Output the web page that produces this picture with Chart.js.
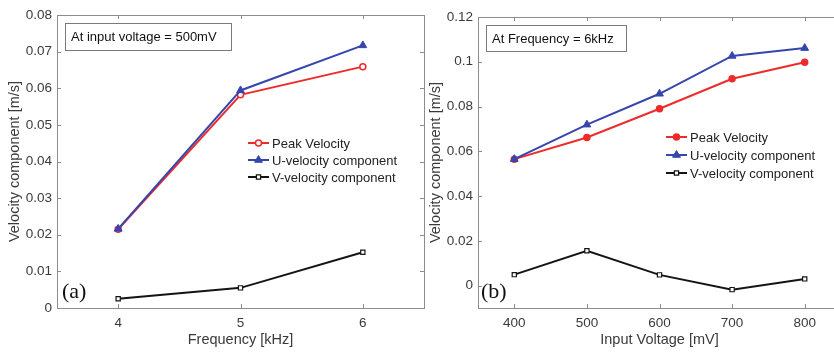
<!doctype html>
<html lang="en">
<head>
<meta charset="utf-8">
<title>Velocity components</title>
<script src="https://cdn.jsdelivr.net/npm/chart.js@4.4.0/dist/chart.umd.min.js"></script>
<style>
  html, body { margin: 0; padding: 0; background: #fff; overflow: hidden; }
  #wrap { position: relative; width: 834px; height: 352px; overflow: hidden; }
  canvas { position: absolute; top: 0; }
  #chartA { left: 0; }
  #chartB { left: 416px; }
</style>
</head>
<body>
<div id="wrap">
  <canvas id="chartA" width="430" height="352"></canvas>
  <canvas id="chartB" width="434" height="352"></canvas>
</div>
<script>
// panel (a): sweep of frequency, input voltage fixed at 500 mV
const freqKHz = [4, 5, 6];
const peakA = [0.0215, 0.0582, 0.0659];
const uA = [0.0216, 0.0594, 0.0717];
const vA = [0.0025, 0.0055, 0.0152];
const xTicksA = [4, 5, 6];
const yTicksA = [0, 0.01, 0.02, 0.03, 0.04, 0.05, 0.06, 0.07, 0.08];

// panel (b): sweep of input voltage, frequency fixed at 6 kHz
const voltMV = [400, 500, 600, 700, 800];
const peakB = [0.0565, 0.0662, 0.0790, 0.0924, 0.0998];
const uB = [0.0565, 0.0719, 0.0857, 0.1026, 0.1061];
const vB = [0.0049, 0.0156, 0.0048, -0.0018, 0.0030];
const xTicksB = [400, 500, 600, 700, 800];
const yTicksB = [0, 0.02, 0.04, 0.06, 0.08, 0.1, 0.12];

const seriesNames = ['Peak Velocity', 'U-velocity component', 'V-velocity component'];

const RED = '#ee2b2b', BLUE = '#3546ad', BLACK = '#141414';
const AXIS = '#8c8c8c', TEXT = '#3a3a3a';
const SANS = '"Liberation Sans", Arial, Helvetica, sans-serif';

Chart.defaults.font.family = SANS;

function pts(xs, ys) {
  return xs.map((x, i) => ({ x: x, y: ys[i] }));
}

function drawMarker(ctx, ds, x, y) {
  ctx.save();
  ctx.fillStyle = ds.pointBackgroundColor;
  ctx.strokeStyle = ds.borderColor;
  ctx.lineWidth = ds.pointBorderWidth;
  const r = ds.pointRadius;
  ctx.beginPath();
  if (ds.pointStyle === 'triangle') {
    ctx.moveTo(x, y - r);
    ctx.lineTo(x + r * 0.87, y + r * 0.5);
    ctx.lineTo(x - r * 0.87, y + r * 0.5);
    ctx.closePath();
  } else if (ds.pointStyle === 'rect') {
    const s = r * Math.SQRT1_2;
    ctx.rect(x - s, y - s, 2 * s, 2 * s);
  } else {
    ctx.arc(x, y, r, 0, Math.PI * 2);
  }
  ctx.fill();
  ctx.stroke();
  ctx.restore();
}

// frame, inward ticks, note box, panel letter and legend
const decor = {
  id: 'decor',
  beforeDatasetsDraw(chart) {
    const { ctx, chartArea: a, scales } = chart;
    ctx.save();
    ctx.strokeStyle = AXIS;
    ctx.lineWidth = 1;
    ctx.strokeRect(a.left + 0.5, a.top + 0.5, a.right - a.left, a.bottom - a.top);
    ctx.beginPath();
    scales.x.ticks.forEach(t => {
      const px = Math.round(scales.x.getPixelForValue(t.value)) + 0.5;
      ctx.moveTo(px, a.bottom); ctx.lineTo(px, a.bottom - 4);
      ctx.moveTo(px, a.top); ctx.lineTo(px, a.top + 4);
    });
    scales.y.ticks.forEach(t => {
      const py = Math.round(scales.y.getPixelForValue(t.value)) + 0.5;
      ctx.moveTo(a.left, py); ctx.lineTo(a.left + 4, py);
      ctx.moveTo(a.right, py); ctx.lineTo(a.right - 4, py);
    });
    ctx.stroke();
    ctx.restore();
  },
  afterDatasetsDraw(chart, args, o) {
    const ctx = chart.ctx;
    ctx.save();
    // note box
    ctx.fillStyle = '#fff';
    ctx.strokeStyle = '#7a7a7a';
    ctx.lineWidth = 1;
    ctx.fillRect(o.box[0], o.box[1], o.box[2], o.box[3]);
    ctx.strokeRect(o.box[0] + 0.5, o.box[1] + 0.5, o.box[2], o.box[3]);
    ctx.fillStyle = '#111';
    ctx.font = '13px ' + SANS;
    ctx.textBaseline = 'middle';
    ctx.fillText(o.note, o.box[0] + 6, o.box[1] + o.box[3] / 2 + 1);

    // panel letter
    ctx.font = '22px "Liberation Serif", "Times New Roman", serif';
    ctx.textBaseline = 'alphabetic';
    ctx.fillText(o.letter, o.letterPos[0], o.letterPos[1]);

    // legend
    ctx.font = '13px ' + SANS;
    ctx.textBaseline = 'middle';
    chart.data.datasets.forEach((ds, i) => {
      const y = o.rows[i];
      ctx.strokeStyle = ds.borderColor;
      ctx.lineWidth = 2;
      ctx.beginPath();
      ctx.moveTo(o.lineX[0], y);
      ctx.lineTo(o.lineX[1], y);
      ctx.stroke();
      drawMarker(ctx, ds, (o.lineX[0] + o.lineX[1]) / 2, y);
      ctx.fillStyle = '#222';
      ctx.fillText(ds.label, o.textX, y + 1);
    });
    ctx.restore();
  }
};

function makeChart(id, cfg) {
  const datasets = [
    {
      label: seriesNames[0], data: pts(cfg.xs, cfg.peak), order: 1,
      borderColor: RED, backgroundColor: RED, borderWidth: 2,
      pointStyle: 'circle', pointRadius: 3, pointBorderWidth: 1.5,
      pointBackgroundColor: cfg.peakFill
    },
    {
      label: seriesNames[1], data: pts(cfg.xs, cfg.u), order: 0,
      borderColor: BLUE, backgroundColor: BLUE, borderWidth: 2,
      pointStyle: 'triangle', pointRadius: 4.5, pointBorderWidth: 1,
      pointBackgroundColor: BLUE
    },
    {
      label: seriesNames[2], data: pts(cfg.xs, cfg.v), order: 2,
      borderColor: BLACK, backgroundColor: BLACK, borderWidth: 2,
      pointStyle: 'rect', pointRadius: 3, pointBorderWidth: 1.2,
      pointBackgroundColor: '#fff'
    }
  ];

  return new Chart(document.getElementById(id), {
    type: 'line',
    data: { datasets: datasets },
    options: {
      responsive: false,
      animation: false,
      layout: { padding: { left: 0, top: cfg.top, right: cfg.right, bottom: 0 } },
      scales: {
        x: {
          type: 'linear', min: cfg.xMin, max: cfg.xMax,
          afterBuildTicks: s => { s.ticks = cfg.xTicks.map(v => ({ value: v })); },
          afterFit: s => { s.height = 44; },
          grid: { display: false, drawTicks: false },
          border: { display: false },
          ticks: { padding: 7, color: TEXT, font: { size: 13.5 }, callback: v => String(v) },
          title: { display: true, text: cfg.xTitle, color: TEXT, font: { size: 14.5 }, padding: { top: 0, bottom: 3 } }
        },
        y: {
          type: 'linear', min: cfg.yMin, max: cfg.yMax,
          afterBuildTicks: s => { s.ticks = cfg.yTicks.map(v => ({ value: v })); },
          afterFit: s => { s.width = cfg.left; },
          grid: { display: false, drawTicks: false },
          border: { display: false },
          ticks: { padding: 5, color: TEXT, font: { size: 13.5 }, callback: v => String(v) },
          title: { display: true, text: 'Velocity component [m/s]', color: TEXT, font: { size: 14.5 }, padding: { top: cfg.yTitlePad, bottom: 0 } }
        }
      },
      plugins: {
        legend: { display: false },
        tooltip: { enabled: false },
        decor: cfg.decor
      }
    },
    plugins: [decor]
  });
}

makeChart('chartA', {
  xs: freqKHz, peak: peakA, u: uA, v: vA, peakFill: '#fff',
  xMin: 3.5, xMax: 6.5, xTicks: xTicksA,
  yMin: 0, yMax: 0.08, yTicks: yTicksA,
  left: 57, top: 15, right: 6, yTitlePad: 6,
  xTitle: 'Frequency [kHz]',
  decor: {
    note: 'At input voltage = 500mV', box: [65, 23, 166, 27],
    letter: '(a)', letterPos: [62, 298],
    rows: [143, 160, 177], lineX: [248, 269], textX: 272
  }
});

makeChart('chartB', {
  xs: voltMV, peak: peakB, u: uB, v: vB, peakFill: RED,
  xMin: 350, xMax: 850, xTicks: xTicksB,
  yMin: -0.01, yMax: 0.12, yTicks: yTicksB,
  left: 62, top: 17, right: 9, yTitlePad: 11,
  xTitle: 'Input Voltage [mV]',
  decor: {
    note: 'At Frequency = 6kHz', box: [70, 25, 140, 26],
    letter: '(b)', letterPos: [65, 298],
    rows: [137, 155, 173], lineX: [250, 271], textX: 274
  }
});
</script>
</body>
</html>
